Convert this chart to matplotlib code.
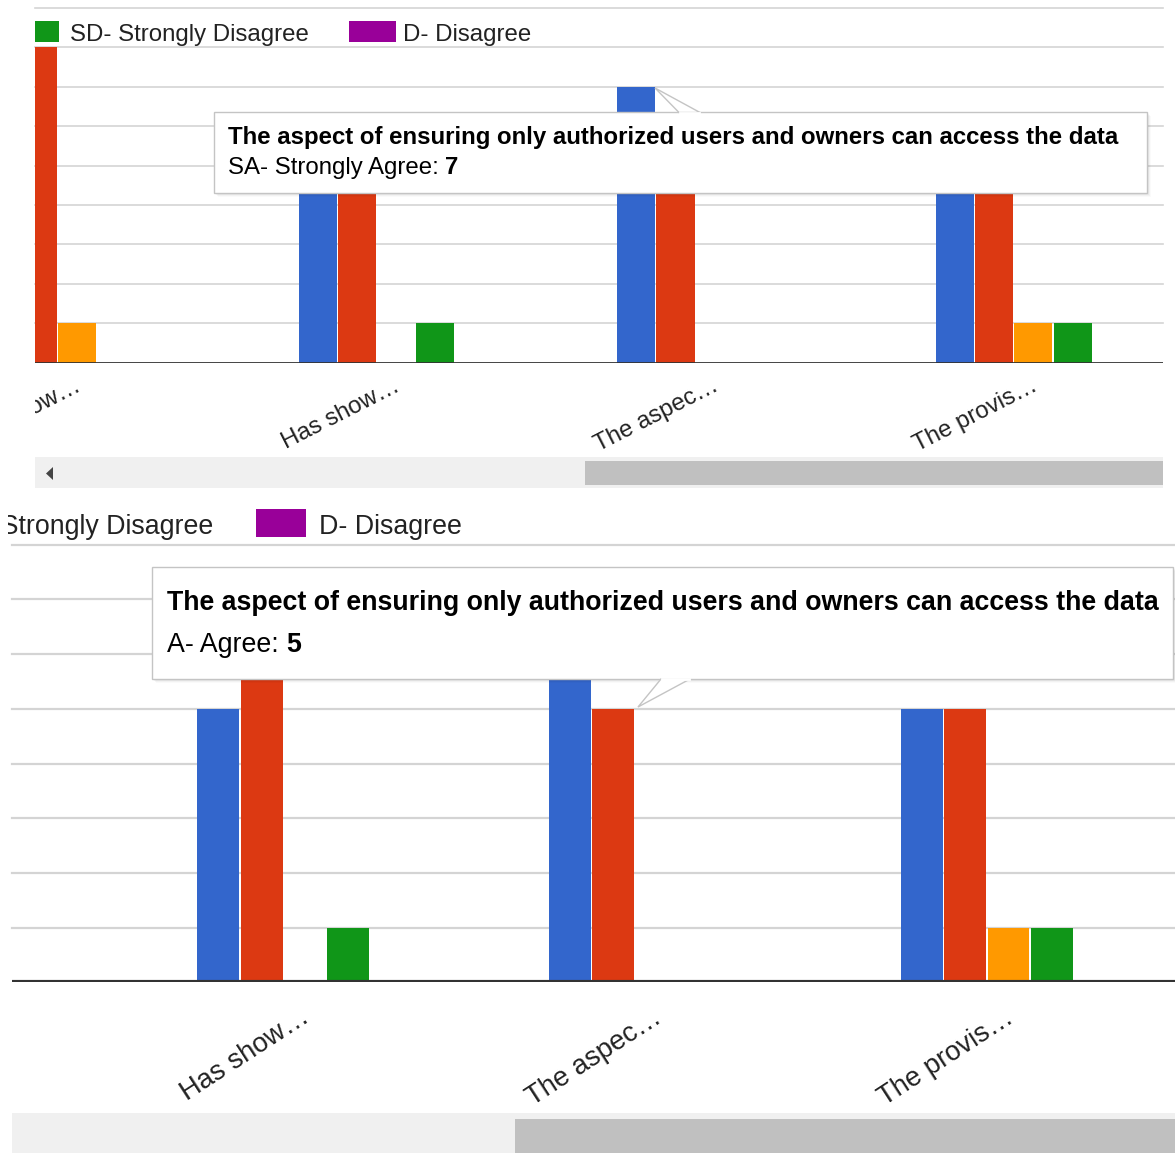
import matplotlib
matplotlib.use('Agg')
import matplotlib.pyplot as plt
from matplotlib import font_manager
from matplotlib.patches import Rectangle, Polygon
from matplotlib.lines import Line2D
from matplotlib.transforms import Bbox, TransformedBbox
import numpy as np

W, H = 1175, 1153

series = ['SA- Strongly Agree', 'A- Agree', 'N- Neutral', 'SD- Strongly Disagree', 'D- Disagree']
colors = ['#3366cc', '#dc3912', '#ff9900', '#109618', '#990099']
categories = ['Has show…', 'Has show…', 'The aspec…', 'The provis…']
strongly_agree = [3, 5, 7, 5]
agree = [8, 6, 5, 5]
neutral = [1, 0, 0, 1]
strongly_disagree = [0, 1, 0, 1]
disagree = [0, 0, 0, 0]
values = [strongly_agree, agree, neutral, strongly_disagree, disagree]
hovered_question = 'The aspect of ensuring only authorized users and owners can access the data'
hovered_cat = 2

REG = 'Liberation Sans'
try:
    font_manager.findfont(font_manager.FontProperties(family='Liberation Sans Narrow'),
                          fallback_to_default=False)
    NARROW, NSCALE = 'Liberation Sans Narrow', 1.0
except ValueError:
    NARROW, NSCALE = REG, 0.82

fig = plt.figure(figsize=(W / 100, H / 100), dpi=100)
fig.patch.set_facecolor('white')


def fx(x):
    return x / W


def fy(y):
    return 1 - y / H


def rect(x0, y0, x1, y1, z=2, **kw):
    r = Rectangle((fx(x0), fy(y1)), (x1 - x0) / W, (y1 - y0) / H,
                  transform=fig.transFigure, zorder=z, **kw)
    fig.add_artist(r)
    return r


def poly(pts, z=2, **kw):
    p = Polygon([(fx(x), fy(y)) for x, y in pts], closed=True,
                transform=fig.transFigure, zorder=z, **kw)
    fig.add_artist(p)


def hline(x0, x1, y, z=2, **kw):
    fig.add_artist(Line2D([fx(x0), fx(x1)], [fy(y), fy(y)],
                          transform=fig.transFigure, zorder=z, **kw))


def clip_left(t, x):
    t.set_clip_path(None)
    t.set_clip_box(TransformedBbox(Bbox([[fx(x), 0], [1, 1]]), fig.transFigure))
    t.set_clip_on(True)


def panel(box, xlim, ymax, grid_lw, base_lw, lab_off, lab_rot, lab_font, lab_size):
    left, top, right, bottom = box
    ax = fig.add_axes([fx(left), fy(bottom), (right - left) / W, (bottom - top) / H])
    step = 0.123
    x = np.arange(len(categories))
    for k, (vals, c) in enumerate(zip(values, colors)):
        ax.bar(x + (k - 2) * step, vals, width=step * 0.97, color=c, zorder=2)
    for v in range(1, ymax + 1):
        ax.axhline(v, color='#d4d4d4', lw=grid_lw, zorder=1, clip_on=False)
    ax.axhline(0, color='#333333', lw=base_lw, zorder=3)
    ax.set_xlim(xlim)
    ax.set_ylim(0, ymax)
    ax.axis('off')
    for i, lab in enumerate(categories):
        t = ax.annotate(lab, xy=(i, 0), xytext=lab_off, textcoords='offset points',
                        rotation=lab_rot, rotation_mode='anchor', ha='right',
                        va='baseline', color='#222222', family=lab_font,
                        fontsize=lab_size, annotation_clip=False)
        clip_left(t, left / 1.0)
    return ax


def tooltip(x0, y0, x1, y1, tail):
    for i, a in enumerate([0.05, 0.04, 0.03, 0.02]):
        rect(x0 + 1 + i, y0 + 1 + i, x1 + 1 + i, y1 + 1 + i, z=5, fc='black',
             ec='none', alpha=a)
    rect(x0, y0, x1, y1, z=6, fc='white', ec='#c4c4c4', lw=1)
    poly(tail, z=7, fc='white', ec='#c4c4c4', lw=1)
    (bx0, by), (bx1, _) = tail[1], tail[2]
    hline(min(bx0, bx1) + 1, max(bx0, bx1) - 1, by, z=8, color='white', lw=2)


# upper view of the chart
panel((35, 8, 1163, 362.7), (-0.1327, 3.4066), 9, 1.2, 2.0,
      (3.6, -19.7), 27, REG, 17.3)

rect(35, 21, 59, 42, fc=colors[3], ec='none')
fig.text(fx(70), fy(40.5), series[3], family=REG, fontsize=17.3, color='#222222',
         va='baseline')
rect(349, 21, 396, 42, fc=colors[4], ec='none')
fig.text(fx(403), fy(40.5), series[4], family=REG, fontsize=17.3, color='#222222',
         va='baseline')

rect(35, 457, 1163, 488, fc='#f0f0f0', ec='none')
rect(585, 461, 1163, 485, fc='#c0c0c0', ec='none')
poly([(46, 473.5), (53, 467), (53, 480)], fc='#444444', ec='none')

tooltip(214, 112.5, 1147, 193, [(655, 88), (679, 112.5), (700, 112.5)])
fig.text(fx(228), fy(144), hovered_question, family=REG, fontsize=17.3,
         weight='bold', color='black', va='baseline', zorder=9)
t = fig.text(fx(228), fy(174), series[0] + ':', family=REG, fontsize=17.3,
             color='black', va='baseline', zorder=9)
renderer = fig.canvas.get_renderer()
x_end = t.get_window_extent(renderer).x1
fig.text(x_end / W + 6.5 / W, fy(174), str(strongly_agree[hovered_cat]), family=REG,
         fontsize=17.3, weight='bold', color='black', va='baseline', zorder=9)

# lower, zoomed view of the chart
panel((12, 544.7, 1175, 982.3), (0.1674, 3.4733), 8, 1.6, 3.0,
      (4.3, -27.9), 33, NARROW, 24 * NSCALE)

fs = 23.5 * NSCALE
t = fig.text(fx(213), fy(534), series[3], family=NARROW, fontsize=fs, color='#222222',
             va='baseline', ha='right')
clip_left(t, 8)
rect(256, 509, 306, 537, fc=colors[4], ec='none')
fig.text(fx(319), fy(534), series[4], family=NARROW, fontsize=fs, color='#222222',
         va='baseline')

rect(12, 1113, 1175, 1153, fc='#f0f0f0', ec='none')
rect(515, 1119, 1175, 1153, fc='#c0c0c0', ec='none')

tooltip(151.5, 567, 1173, 679, [(638, 707), (661, 679), (690, 679)])
fig.text(fx(167), fy(610), hovered_question, family=NARROW, fontsize=fs,
         weight='bold', color='black', va='baseline', zorder=9)
t = fig.text(fx(167), fy(652), series[1] + ':', family=NARROW, fontsize=fs,
             color='black', va='baseline', zorder=9)
x_end = t.get_window_extent(renderer).x1
fig.text(x_end / W + 7 / W, fy(652), str(agree[hovered_cat]), family=NARROW,
         fontsize=fs, weight='bold', color='black', va='baseline', zorder=9)

fig.savefig('out.png', dpi=100, facecolor='white')
